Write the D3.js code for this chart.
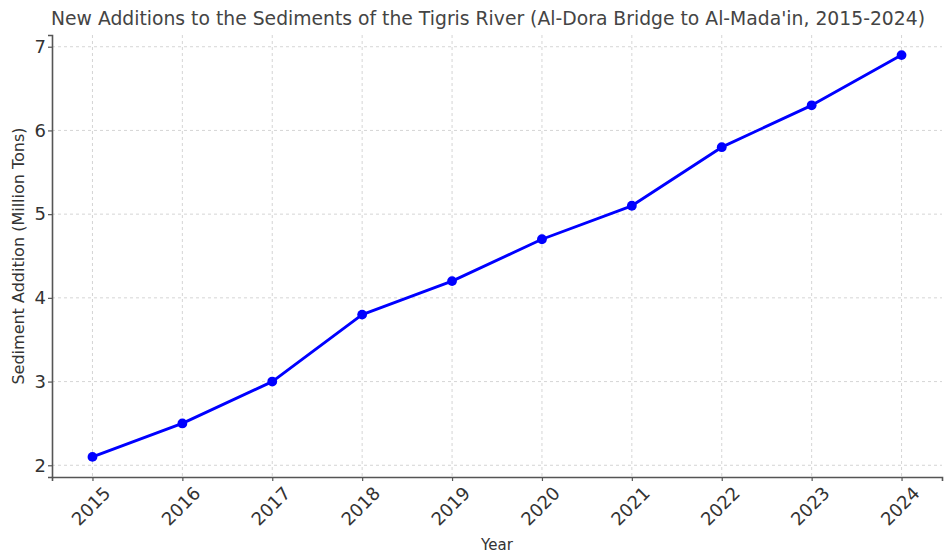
<!DOCTYPE html>
<html><head><meta charset="utf-8">
<script src="https://cdn.jsdelivr.net/npm/d3@7"></script>
<style>body{margin:0;background:#fff}svg{display:block}text{font-family:"DejaVu Sans",sans-serif}</style>
</head><body><svg id="c" width="945" height="554"></svg>
<script>
const years = [2015,2016,2017,2018,2019,2020,2021,2022,2023,2024];
const sediment = [2.1,2.5,3.0,3.8,4.2,4.7,5.1,5.8,6.3,6.9];
const yTicks = [2,3,4,5,6,7];
const title = "New Additions to the Sediments of the Tigris River (Al-Dora Bridge to Al-Mada'in, 2015-2024)";
const xLabel = "Year";
const yLabel = "Sediment Addition (Million Tons)";

const svg = d3.select("#c");
const L=52, R=942, T=35, B=477;
const x = d3.scaleLinear().domain([2014.55,2024.45]).range([L,R]);
const y = d3.scaleLinear().domain([1.86,7.14]).range([B,T]);

// grid
svg.append("g").selectAll("line").data(years).join("line")
  .attr("x1",d=>x(d)).attr("x2",d=>x(d)).attr("y1",T).attr("y2",B)
  .attr("stroke","#d0d0d0").attr("stroke-width",0.9).attr("stroke-dasharray","3,3");
svg.append("g").selectAll("line").data(yTicks).join("line")
  .attr("y1",d=>y(d)).attr("y2",d=>y(d)).attr("x1",L).attr("x2",R)
  .attr("stroke","#d0d0d0").attr("stroke-width",0.9).attr("stroke-dasharray","3,3");

// axes
const xa = svg.append("g").attr("transform",`translate(0,${B})`)
  .call(d3.axisBottom(x).tickValues(years).tickFormat(d3.format("d")).tickSizeOuter(0).tickSize(4).tickPadding(4));
xa.select(".domain").attr("stroke","#555").attr("stroke-width",1.6);
xa.selectAll(".tick line").attr("stroke","#555").attr("stroke-width",1.2);
xa.selectAll(".tick text").attr("font-size",18).attr("fill","#333")
  .attr("text-anchor","middle").attr("dy",null).attr("y",0)
  .attr("transform","translate(-1,30) rotate(-45)").attr("dominant-baseline","middle");

const ya = svg.append("g").attr("transform",`translate(${L},0)`)
  .call(d3.axisLeft(y).tickValues(yTicks).tickFormat(d3.format("d")).tickSizeOuter(0).tickSize(4).tickPadding(2));
ya.select(".domain").attr("stroke","#555").attr("stroke-width",1.6);
ya.selectAll(".tick line").attr("stroke","#555").attr("stroke-width",1.2);
ya.selectAll(".tick text").attr("font-size",18).attr("fill","#333");

// line
svg.append("path").datum(years.map((d,i)=>[d,sediment[i]]))
  .attr("fill","none").attr("stroke","#0000ff").attr("stroke-width",2.9).attr("stroke-linejoin","round")
  .attr("d",d3.line().x(d=>x(d[0])).y(d=>y(d[1])));
svg.append("g").selectAll("circle").data(sediment).join("circle")
  .attr("cx",(d,i)=>x(years[i])).attr("cy",d=>y(d)).attr("r",4.9).attr("fill","#0000ff");

// labels
svg.append("text").attr("x",51).attr("y",25).attr("text-anchor","start")
  .attr("textLength",874).attr("lengthAdjust","spacingAndGlyphs")
  .attr("font-size",19).attr("fill","#444").text(title);
svg.append("text").attr("x",(L+R)/2).attr("y",550).attr("text-anchor","middle")
  .attr("font-size",15).attr("fill","#333").text(xLabel);
svg.append("text").attr("transform",`translate(24,${(T+B)/2}) rotate(-90)`).attr("text-anchor","middle")
  .attr("font-size",16).attr("fill","#333").text(yLabel);
</script></body></html>
